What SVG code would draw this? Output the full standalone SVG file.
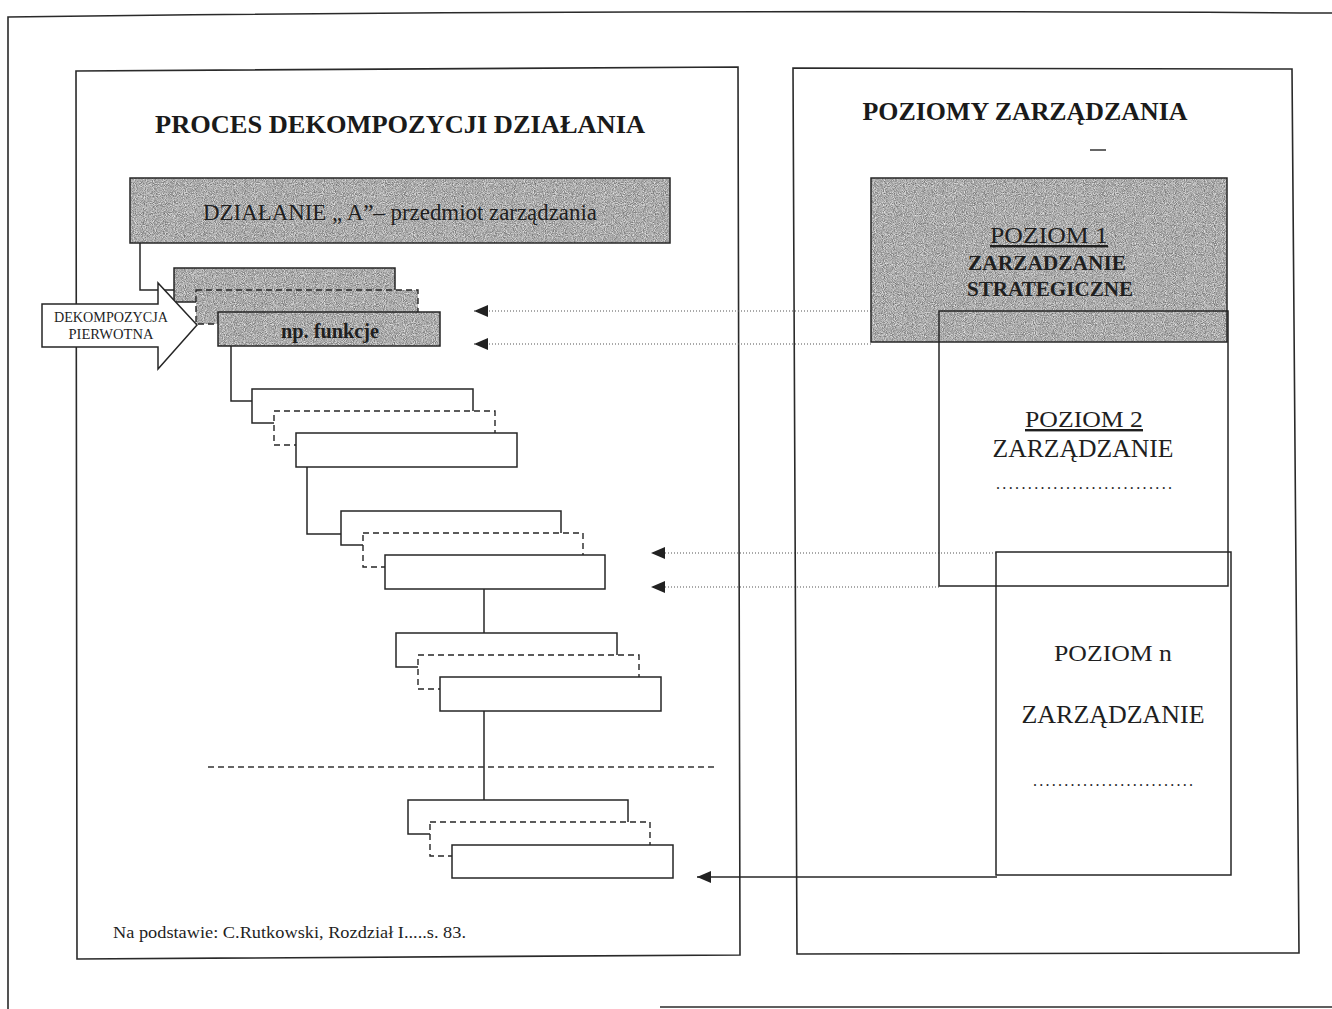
<svg xmlns="http://www.w3.org/2000/svg" width="1332" height="1009" viewBox="0 0 1332 1009">
  <style>
    .frame { fill: none; stroke: #2a2a2a; stroke-width: 1.6; }
    .box { fill: #fff; stroke: #262626; stroke-width: 1.5; }
    .dash { fill: #fff; stroke: #262626; stroke-width: 1.4; stroke-dasharray: 6 4; }
    .outline { fill: none; stroke: #262626; stroke-width: 1.5; }
    .outline-dash { fill: none; stroke: #262626; stroke-width: 1.4; stroke-dasharray: 6 4; }
    .shade { fill: #000; filter: url(#grain); }
    .link { fill: none; stroke: #262626; stroke-width: 1.5; }
    .dotted { fill: none; stroke: #555; stroke-width: 1.1; stroke-dasharray: 1 2; }
    .sep { fill: none; stroke: #333; stroke-width: 1.3; stroke-dasharray: 6 4; }
    .title { font-family: "Liberation Serif", "Times New Roman", serif; font-weight: bold; fill: #1a1a1a; }
    .serif { font-family: "Liberation Serif", "Times New Roman", serif; fill: #1f1f1f; }
  </style>
  <defs>
    <!-- speckled grey used for the shaded boxes -->
    <filter id="grain" x="0" y="0" width="100%" height="100%" color-interpolation-filters="sRGB">
      <feTurbulence type="fractalNoise" baseFrequency="1.1" numOctaves="1" seed="4" result="noise"/>
      <feColorMatrix in="noise" type="matrix" values="0.8 0 0 0 0.27  0.8 0 0 0 0.27  0.8 0 0 0 0.27  0 0 0 0 1" result="tone"/>
      <feComposite in="tone" in2="SourceGraphic" operator="in"/>
    </filter>
    <marker id="tip" viewBox="0 0 14 12" refX="14" refY="6" markerWidth="14" markerHeight="12" markerUnits="userSpaceOnUse" orient="auto">
      <path d="M0,0 L14,6 L0,12 z" fill="#222"/>
    </marker>
  </defs>

  <!-- page border -->
  <path class="frame" d="M8,1009 V17 Q600,9 1332,13"/>
  <path class="frame" d="M660,1007 H1332"/>

  <!-- left panel -->
  <g id="panel-left">
    <path class="frame" d="M76,71 L738,67 L740,955 L77,959 Z" fill="#fff"/>
    <text class="title" x="400" y="133" font-size="26" text-anchor="middle" textLength="490" lengthAdjust="spacingAndGlyphs">PROCES  DEKOMPOZYCJI  DZIAŁANIA</text>
    <text class="serif" x="113" y="938" font-size="17" textLength="353" lengthAdjust="spacingAndGlyphs">Na podstawie: C.Rutkowski, Rozdział I.....s. 83.</text>
  </g>

  <!-- right panel -->
  <g id="panel-right">
    <path class="frame" d="M793,68 L1292,69 L1299,953 L797,954 Z" fill="#fff"/>
    <text class="title" x="1025" y="120" font-size="26" text-anchor="middle" textLength="325" lengthAdjust="spacingAndGlyphs">POZIOMY ZARZĄDZANIA</text>
    <path d="M1090,150 H1106" stroke="#333" stroke-width="1.5"/>
  </g>

  <!-- connectors -->
  <g id="connectors">
    <path class="link" d="M140,243 V290 H174"/>
    <path class="link" d="M231,346 V401 H252"/>
    <path class="link" d="M307,467 V534 H341"/>
    <path class="link" d="M484,589 V633"/>
    <path class="link" d="M484,711 V800"/>
    <path class="sep" d="M208,767 H717"/>
    <path class="dotted" d="M871,311 H474" marker-end="url(#tip)"/>
    <path class="dotted" d="M871,344 H474" marker-end="url(#tip)"/>
    <path class="dotted" d="M996,553 H651" marker-end="url(#tip)"/>
    <path class="dotted" d="M939,587 H651" marker-end="url(#tip)"/>
    <path class="link" d="M997,877 H697" marker-end="url(#tip)"/>
  </g>

  <!-- activity A -->
  <g id="activity-a">
    <rect class="shade" x="130" y="178" width="540" height="65"/>
    <rect class="outline" x="130" y="178" width="540" height="65"/>
    <text class="serif" x="400" y="220" font-size="24" text-anchor="middle" textLength="394" lengthAdjust="spacingAndGlyphs">DZIAŁANIE „ A”– przedmiot zarządzania</text>
  </g>

  <!-- first decomposition level -->
  <g id="level-1">
    <rect class="shade" x="174" y="268" width="221" height="34"/>
    <rect class="outline" x="174" y="268" width="221" height="34"/>
    <rect class="shade" x="196" y="290" width="222" height="34"/>
    <rect class="outline-dash" x="196" y="290" width="222" height="34"/>
    <rect class="shade" x="218" y="312" width="222" height="34"/>
    <rect class="outline" x="218" y="312" width="222" height="34"/>
    <text class="serif" x="330" y="338" font-size="22" font-weight="bold" text-anchor="middle" textLength="98" lengthAdjust="spacingAndGlyphs">np. funkcje</text>
  </g>

  <!-- primary decomposition arrow -->
  <g id="primary-decomposition">
    <path d="M42,304 H158 V283 L197,325 L158,369 V347 H42 Z" fill="#fff" stroke="#262626" stroke-width="1.5"/>
    <text class="serif" x="111" y="322" font-size="14.5" text-anchor="middle" textLength="114" lengthAdjust="spacingAndGlyphs">DEKOMPOZYCJA</text>
    <text class="serif" x="111" y="339" font-size="14.5" text-anchor="middle" textLength="85" lengthAdjust="spacingAndGlyphs">PIERWOTNA</text>
  </g>

  <g id="level-2">
    <rect class="box" x="252" y="389" width="221" height="34"/>
    <rect class="dash" x="274" y="411" width="221" height="34"/>
    <rect class="box" x="296" y="433" width="221" height="34"/>
  </g>

  <g id="level-3">
    <rect class="box" x="341" y="511" width="220" height="34"/>
    <rect class="dash" x="363" y="533" width="220" height="34"/>
    <rect class="box" x="385" y="555" width="220" height="34"/>
  </g>

  <g id="level-4">
    <rect class="box" x="396" y="633" width="221" height="34"/>
    <rect class="dash" x="418" y="655" width="221" height="34"/>
    <rect class="box" x="440" y="677" width="221" height="34"/>
  </g>

  <g id="level-5">
    <rect class="box" x="408" y="800" width="220" height="34"/>
    <rect class="dash" x="430" y="822" width="220" height="34"/>
    <rect class="box" x="452" y="845" width="221" height="33"/>
  </g>

  <!-- management levels -->
  <g id="poziom-1">
    <rect class="shade" x="871" y="178" width="356" height="164"/>
    <rect class="outline" x="871" y="178" width="356" height="164"/>
    <text class="serif" x="1049" y="243" font-size="24" text-anchor="middle" textLength="118" lengthAdjust="spacingAndGlyphs" text-decoration="underline">POZIOM 1</text>
    <text class="serif" x="1047" y="270" font-size="22" font-weight="bold" text-anchor="middle" textLength="158" lengthAdjust="spacingAndGlyphs">ZARZADZANIE</text>
    <text class="serif" x="1050" y="296" font-size="22" font-weight="bold" text-anchor="middle" textLength="166" lengthAdjust="spacingAndGlyphs">STRATEGICZNE</text>
  </g>

  <g id="poziom-2">
    <rect class="outline" x="939" y="311" width="289" height="275"/>
    <text class="serif" x="1084" y="427" font-size="24" text-anchor="middle" textLength="118" lengthAdjust="spacingAndGlyphs" text-decoration="underline">POZIOM 2</text>
    <text class="serif" x="1083" y="457" font-size="25" text-anchor="middle" textLength="181" lengthAdjust="spacingAndGlyphs">ZARZĄDZANIE</text>
    <text class="serif" x="1084" y="489" font-size="16" text-anchor="middle" textLength="176" lengthAdjust="spacing">............................</text>
  </g>

  <g id="poziom-n">
    <rect class="outline" x="996" y="552" width="235" height="323"/>
    <text class="serif" x="1113" y="661" font-size="24" text-anchor="middle" textLength="118" lengthAdjust="spacingAndGlyphs">POZIOM n</text>
    <text class="serif" x="1113" y="723" font-size="25" text-anchor="middle" textLength="183" lengthAdjust="spacingAndGlyphs">ZARZĄDZANIE</text>
    <text class="serif" x="1113" y="786" font-size="16" text-anchor="middle" textLength="160" lengthAdjust="spacing">..........................</text>
  </g>
</svg>
